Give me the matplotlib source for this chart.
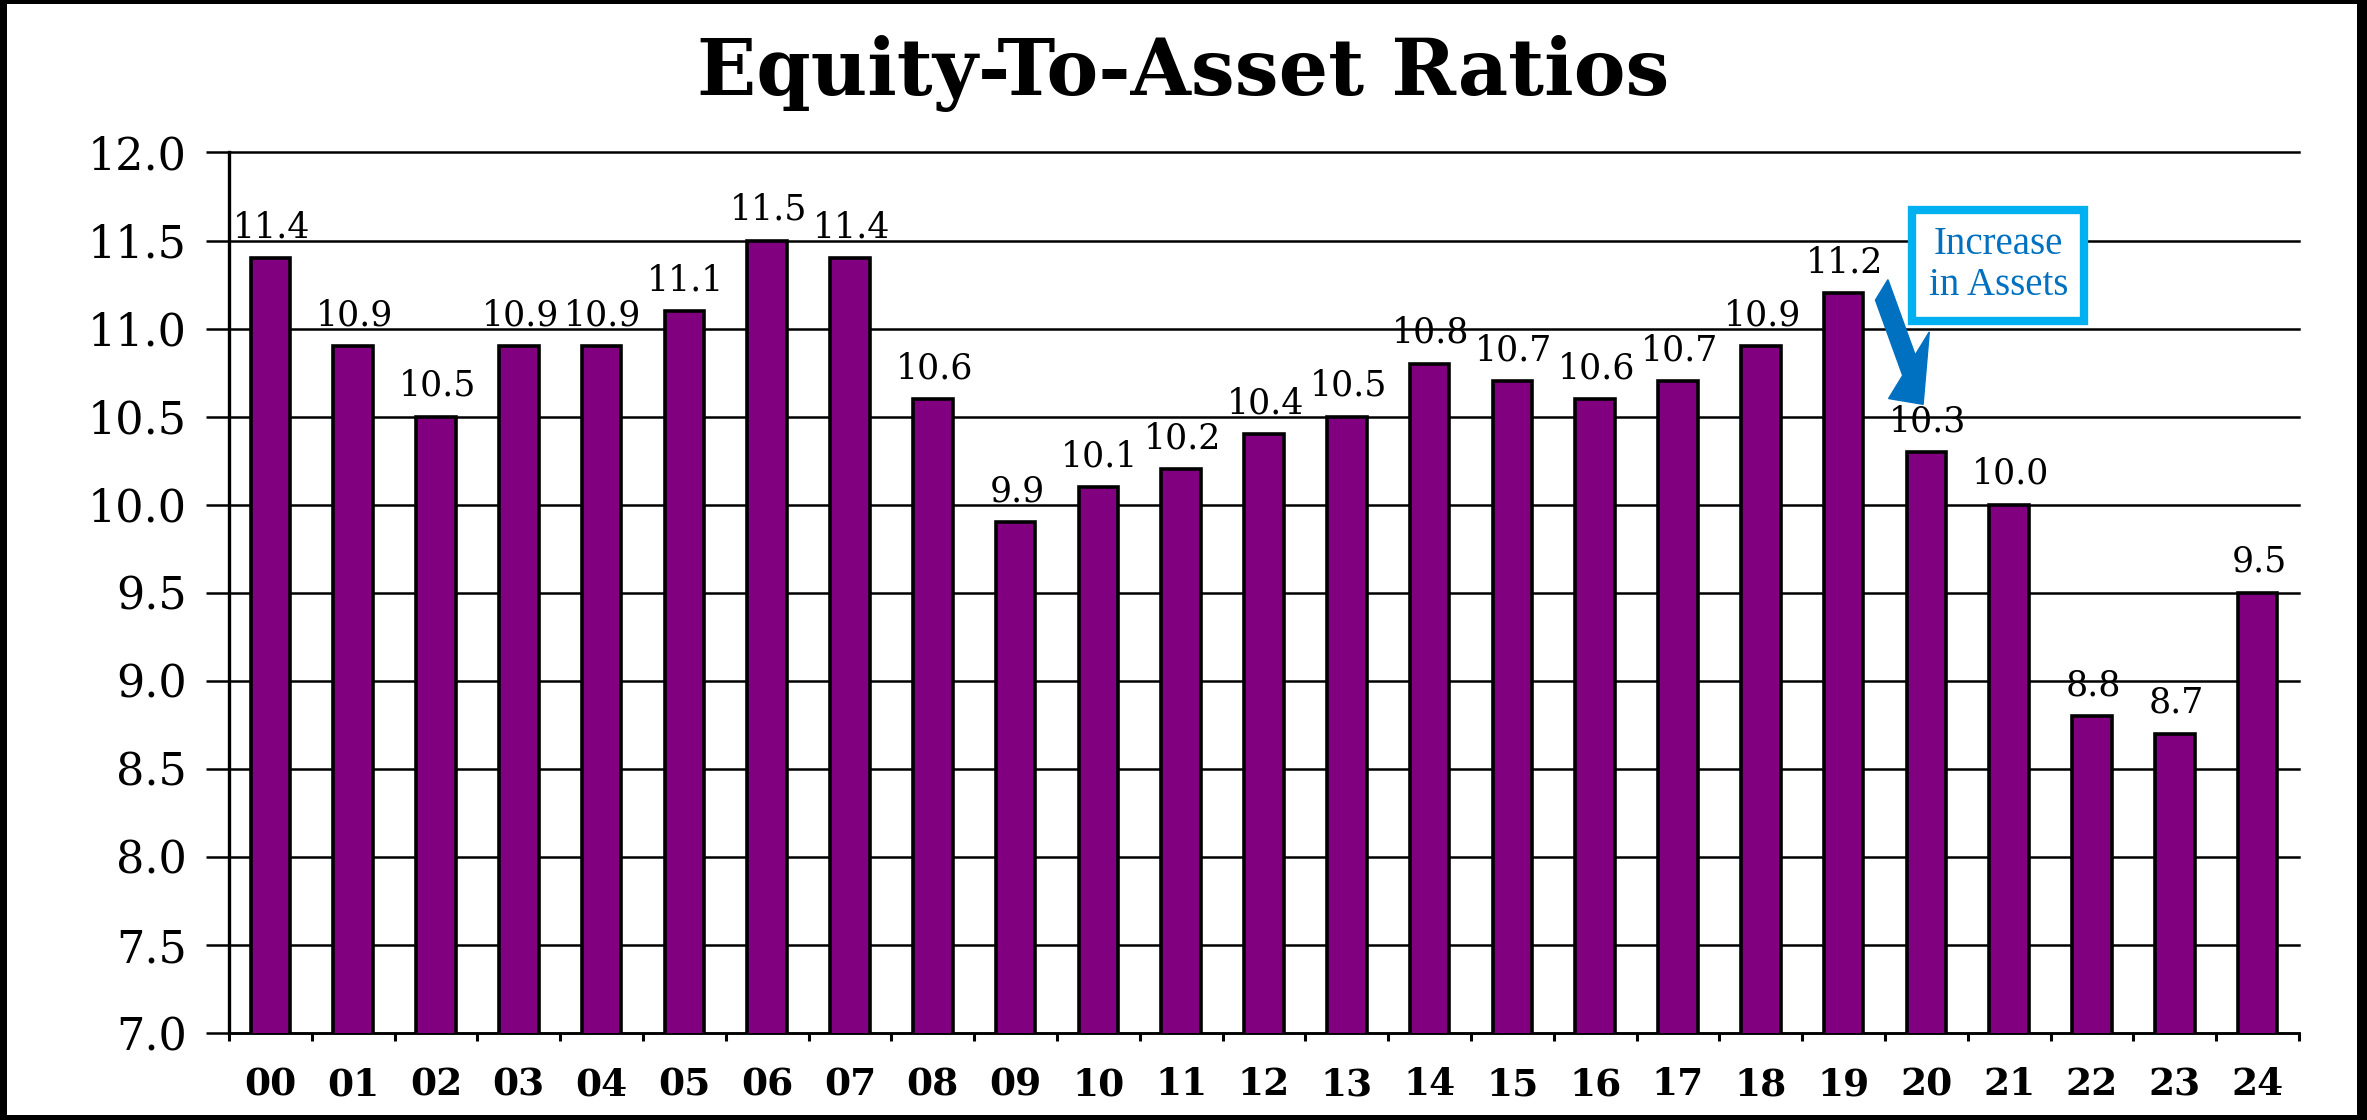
import matplotlib
matplotlib.use("Agg")
import matplotlib.pyplot as plt
from matplotlib.patches import Rectangle, FancyArrow

# Equity-to-asset ratios by year (percent)
years = ["00", "01", "02", "03", "04", "05", "06", "07", "08", "09",
         "10", "11", "12", "13", "14", "15", "16", "17", "18", "19",
         "20", "21", "22", "23", "24"]
ratios = [11.4, 10.9, 10.5, 10.9, 10.9, 11.1, 11.5, 11.4, 10.6, 9.9,
          10.1, 10.2, 10.4, 10.5, 10.8, 10.7, 10.6, 10.7, 10.9, 11.2,
          10.3, 10.0, 8.8, 8.7, 9.5]
y_ticks = [7.0, 7.5, 8.0, 8.5, 9.0, 9.5, 10.0, 10.5, 11.0, 11.5, 12.0]

title = "Equity-To-Asset Ratios"
note = "Increase\nin Assets"

W, H, DPI = 2367, 1120, 100
fig = plt.figure(figsize=(W / DPI, H / DPI), dpi=DPI, facecolor="white")

ax = fig.add_axes([229 / W, 1 - 1033 / H, (2299 - 229) / W, (1033 - 152.5) / H])
ax.set_facecolor("white")

x = list(range(len(years)))
ax.bar(x, ratios, width=0.48, bottom=0, color="#800080", edgecolor="black",
       linewidth=2.6, zorder=3)

ax.set_ylim(7.0, 12.0)
ax.set_xlim(-0.5, len(years) - 0.5)

# horizontal grid at every tick
ax.set_yticks(y_ticks)
ax.set_yticklabels([f"{v:.1f}" for v in y_ticks],
                   family="DejaVu Serif", fontsize=32)
ax.yaxis.grid(True, color="black", linewidth=1.8, zorder=0)
ax.xaxis.grid(False)
for gl in ax.get_ygridlines():
    gl.set_clip_on(False)
ax.tick_params(axis="y", direction="out", length=16.5, width=1.8,
               color="black", pad=14)

# category labels centred, tick marks on the boundaries
ax.set_xticks(x)
ax.set_xticklabels(years, family="DejaVu Serif", fontweight="bold", fontsize=27)
ax.set_xticks([i - 0.5 for i in range(len(years) + 1)], minor=True)
ax.tick_params(axis="x", which="major", length=0, pad=24)
ax.tick_params(axis="x", which="minor", direction="out", length=6, width=2.2,
               color="black")

for side in ("top", "right"):
    ax.spines[side].set_visible(False)
ax.spines["left"].set_linewidth(2.4)
ax.spines["bottom"].set_linewidth(1.8)
ax.spines["left"].set_zorder(4)

# value labels above each bar
for xi, v in zip(x, ratios):
    ax.annotate(f"{v:.1f}", xy=(xi, v), xytext=(1, 15), textcoords="offset points",
                ha="center", va="baseline", family="DejaVu Serif", fontsize=25,
                color="black", zorder=5, annotation_clip=False)

# title
fig.text(0.5, 1 - 74 / H, title, ha="center", va="center",
         family="DejaVu Serif", fontweight="bold", fontsize=56)

# callout box with arrow
ax.text(20.87, 11.36, note, ha="center", va="center", family="Liberation Serif",
        fontsize=28, color="#0070C0", linespacing=1.15, zorder=7,
        bbox=dict(boxstyle="square,pad=0.42", facecolor="white",
                  edgecolor="#00B0F0", linewidth=6))
ax.add_patch(FancyArrow(19.46, 11.22, 0.50, -0.65, width=0.19, head_width=0.62,
                        head_length=0.28, length_includes_head=True,
                        transform=ax.transData, color="#0070C0", zorder=6,
                        clip_on=False))

# dark frame around the whole picture
frame = [(0, 0, 7 / W, 1), (0, 0, 1, 5 / H), (0, 1 - 4 / H, 1, 4 / H),
         (1 - 10 / W, 0, 10 / W, 1)]
for fx, fy, fw, fh in frame:
    fig.patches.append(Rectangle((fx, fy), fw, fh, transform=fig.transFigure,
                                 facecolor="black", edgecolor="none", zorder=10))

fig.savefig("out.png", dpi=DPI, facecolor="white")
